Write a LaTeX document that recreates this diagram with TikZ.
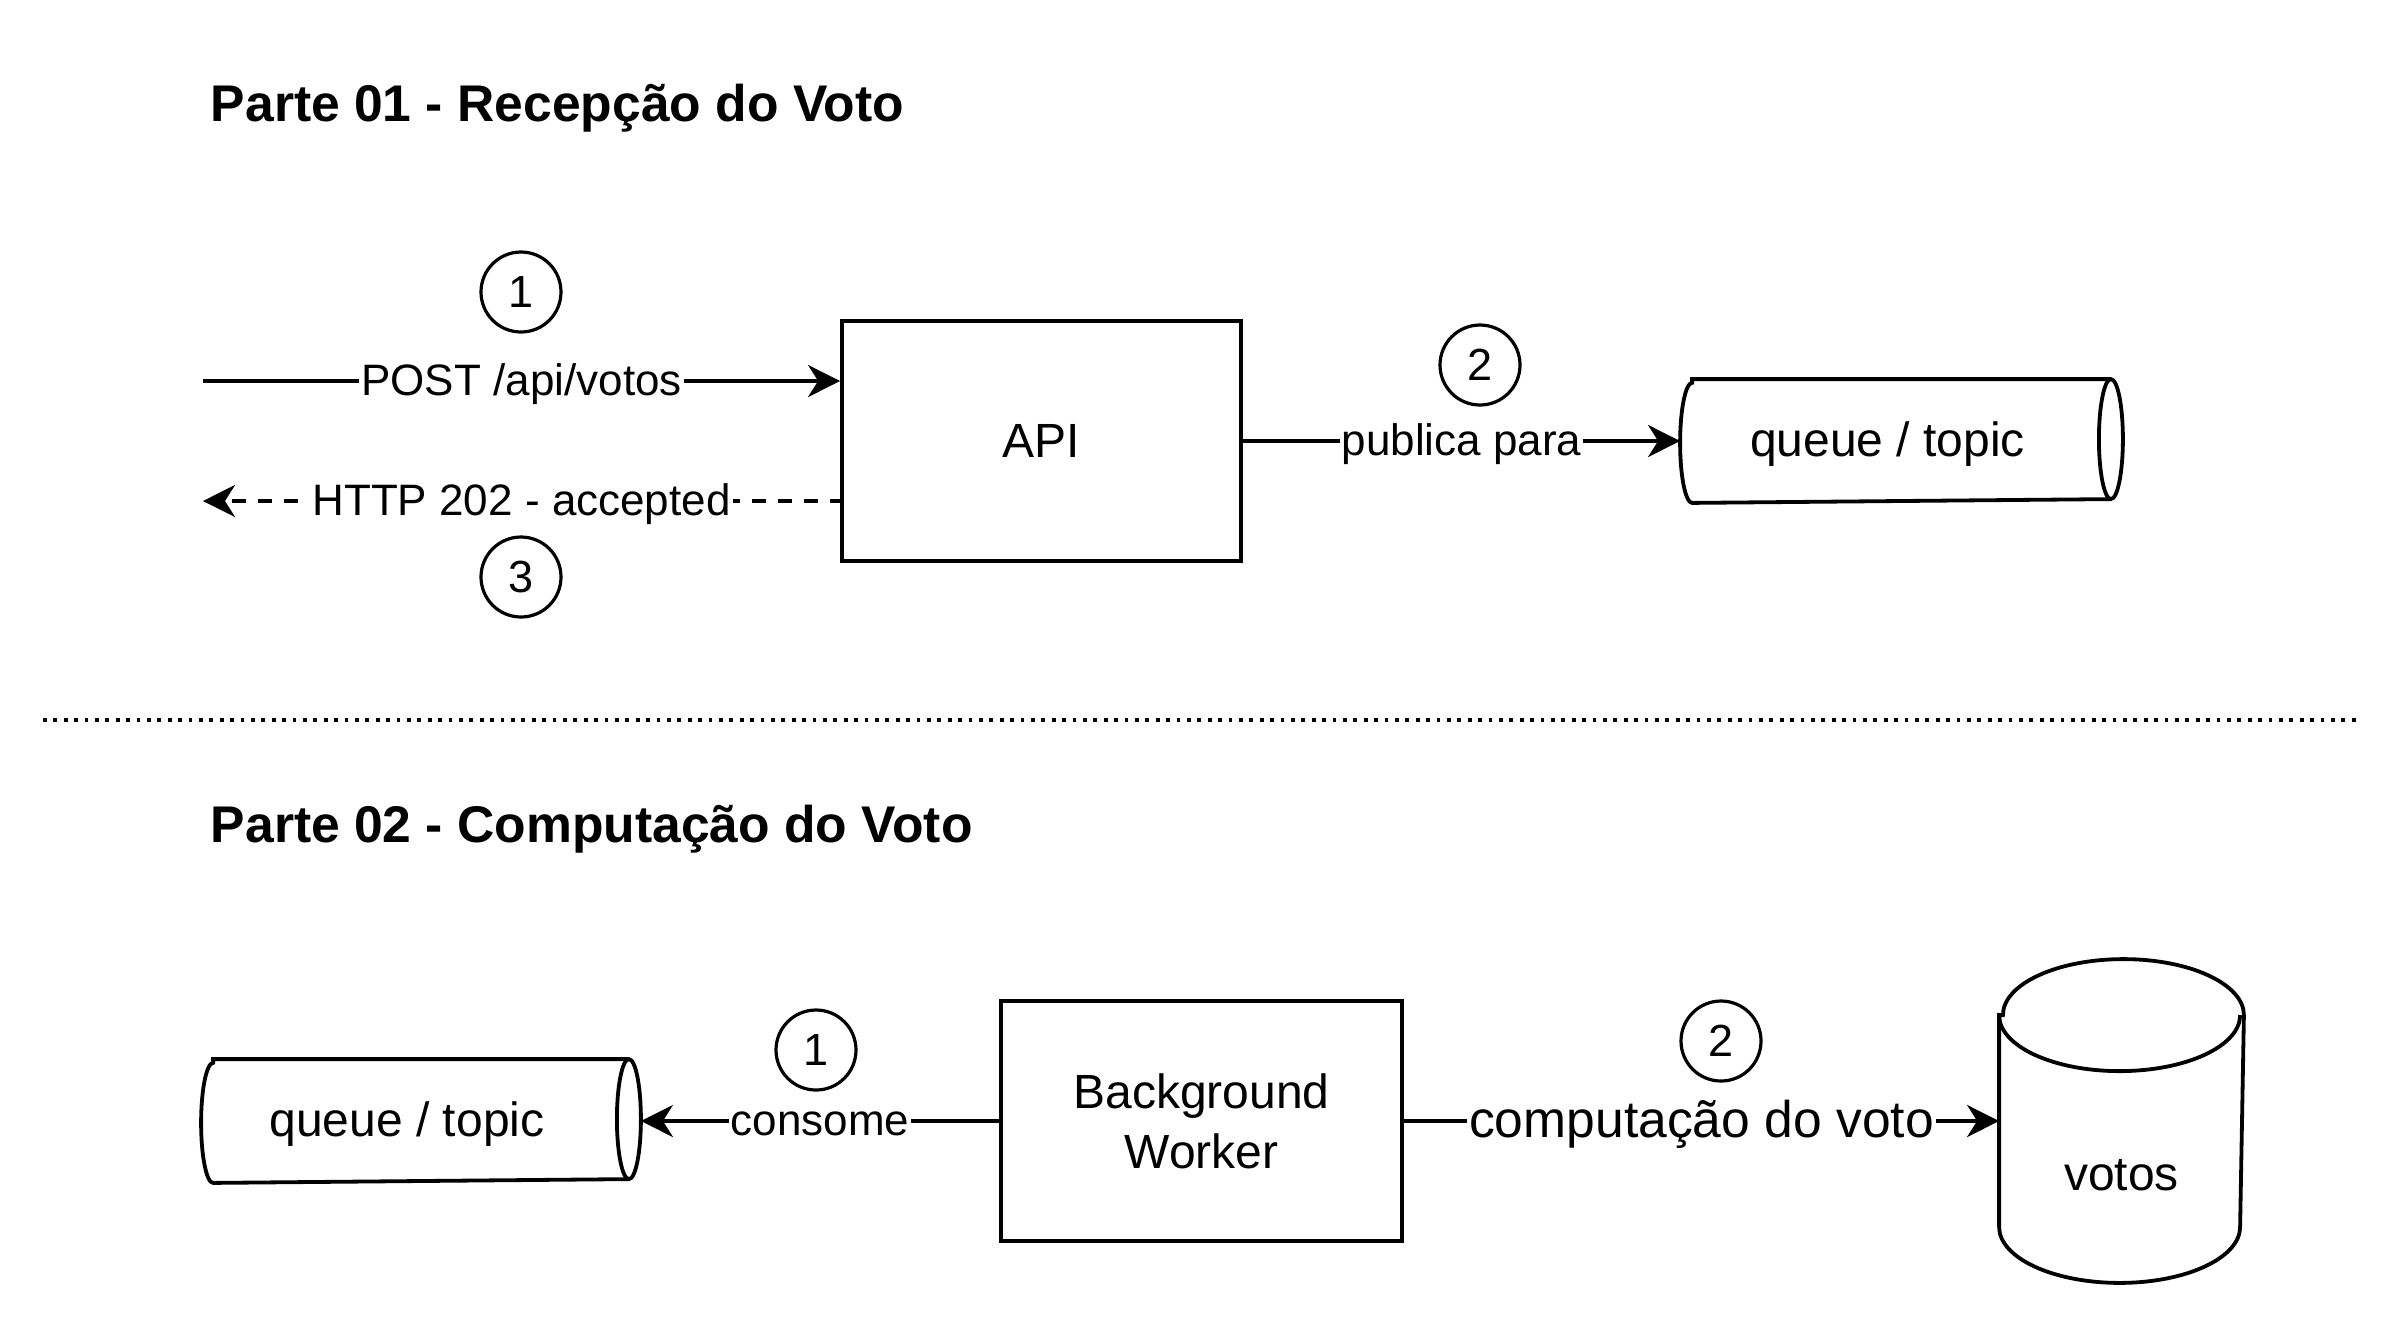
\documentclass[tikz,border=0pt]{standalone}
\usepackage{fontspec}
\setmainfont{Liberation Sans}
\usetikzlibrary{arrows.meta}
\begin{document}
\begin{tikzpicture}[x=0.5pt,y=-0.5pt,
  line width=1.9pt,
  box/.style={draw, line width=1.9pt, minimum height=120pt, inner sep=0pt, font=\fontsize{24}{30}\selectfont, align=center},
  num/.style={circle, draw, line width=1.6pt, minimum size=40pt, inner sep=0pt, font=\fontsize{22.5}{26}\selectfont},
  elabel/.style={fill=white, inner sep=1pt, yshift=-1.5pt, font=\fontsize{22}{26}\selectfont},
  arr/.style={-{Stealth[length=16pt,width=16pt,inset=5pt]}},
  ttl/.style={anchor=base west, font=\fontsize{25.8}{31}\selectfont\bfseries, inner sep=0pt},
  cyl/.style={inner sep=0pt},
  cyltext/.style={font=\fontsize{24}{30}\selectfont},
]
\useasboundingbox (0,0) rectangle (2408,1324);

% titles
\node[ttl] (t1) at (209,121) {Parte 01 - Recepção do Voto};
\node[ttl] (t2) at (209,842) {Parte 02 - Computação do Voto};

% separator
\coordinate (sepL) at (43,720);
\coordinate (sepR) at (2357,720);
\draw[line width=1.9pt, dash pattern=on 1.9pt off 3.3pt] (sepL) -- (sepR);

% ---------- part 1 ----------
\node[box, minimum width=199.5pt] (api) at (1041.5,441) {API};

\node[cyl, minimum width=219.5pt, minimum height=60pt] (q1) at (1901.5,441) {};
\draw ([xshift=6pt]q1.north west) -- ([xshift=-6pt]q1.north east)
  arc[start angle=90,end angle=-90,x radius=6pt,y radius=30pt]
  -- ([xshift=6pt]q1.south west)
  arc[start angle=270,end angle=90,x radius=6pt,y radius=30pt] -- cycle;
\draw ([xshift=-6pt]q1.north east) arc[start angle=90,end angle=270,x radius=6pt,y radius=30pt];
\node[cyltext] (q1t) at ([xshift=-7pt,yshift=-1.5pt]q1.center) {queue / topic};

\coordinate (inA) at (203,381);
\coordinate (outA) at (203,501);
\draw[arr] (inA) -- node[elabel] (l1) {POST /api/votos} (inA -| api.west);
\draw[arr, dash pattern=on 7pt off 6pt, dash phase=2pt] (api.west |- outA) -- node[elabel] (l3) {HTTP 202 - accepted} (outA);
\draw[arr] (api.east) -- node[elabel] (l2) {publica para} (q1.west);

\node[num] (n1) at (521,292) {1};
\node[num] (n3) at (521,577) {3};
\node[num] (n2) at (1480,365) {2};

% ---------- part 2 ----------
\node[box, minimum width=200.5pt] (wk) at (1201.5,1121) {Background\\Worker};

\node[cyl, minimum width=218pt, minimum height=60pt] (q2) at (421,1121) {};
\draw ([xshift=6pt]q2.north west) -- ([xshift=-6pt]q2.north east)
  arc[start angle=90,end angle=-90,x radius=6pt,y radius=30pt]
  -- ([xshift=6pt]q2.south west)
  arc[start angle=270,end angle=90,x radius=6pt,y radius=30pt] -- cycle;
\draw ([xshift=-6pt]q2.north east) arc[start angle=90,end angle=270,x radius=6pt,y radius=30pt];
\node[cyltext] (q2t) at ([xshift=-7pt,yshift=-1.5pt]q2.center) {queue / topic};

\node[cyl, minimum width=120.5pt, minimum height=160pt] (db) at (2121.5,1121) {};
\draw ([yshift=-28pt]db.north west) -- ([yshift=28pt]db.south west)
  arc[start angle=180,end angle=360,x radius=60.25pt,y radius=28pt]
  -- ([yshift=-28pt]db.north east)
  arc[start angle=0,end angle=180,x radius=60.25pt,y radius=28pt] -- cycle;
\draw ([yshift=-28pt]db.north west) arc[start angle=180,end angle=360,x radius=60.25pt,y radius=28pt];
\node[cyltext] (dbt) at ([yshift=-27pt]db.center) {votos};

\draw[arr] (wk.west) -- node[elabel] (m1l) {consome} (q2.east);
\draw[arr] (wk.east) -- node[elabel, font=\fontsize{25.8}{31}\selectfont] (m2l) {computação do voto} (db.west);

\node[num] (m1) at (816,1050) {1};
\node[num] (m2) at (1721,1041) {2};
\end{tikzpicture}
\end{document}
